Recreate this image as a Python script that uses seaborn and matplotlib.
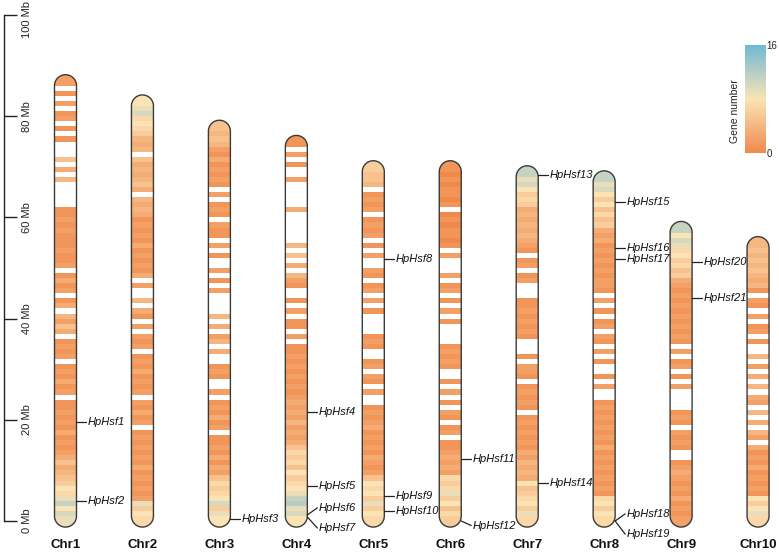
import numpy as np
import matplotlib
matplotlib.use("Agg")
import matplotlib.pyplot as plt
from matplotlib.path import Path
from matplotlib.patches import PathPatch
import seaborn as sns

# chromosomes
chroms = ["Chr1", "Chr2", "Chr3", "Chr4", "Chr5", "Chr6", "Chr7", "Chr8", "Chr9", "Chr10"]

# gene number per 1 Mb window, from 0 Mb upwards
# "." = no gene, "0"-"9","a"-"g" = 0..16
dens_chr1 = ("9a8b9786" "54353" "2121312121" "1.213121.2121" "." "3524.3"
             "1.2131.21" "1211121211" "....." "4.3.5." "..1." "1.21." "2.1.2")
dens_chr2 = ("7869" "2121213121212" "1.21312.21213121.212" "." "2.13" ".4.."
             "2.31" "2121312121" "3434.3543435.434" "6787a98")
dens_chr3 = ("896a87675" "2313121" "1.213121" ".2.." "121" ".." "3.42.3.4" "...."
             "2.1.2..1.2.1" "12.121.2" "." "12121312" "4545")
dens_chr4 = ("8a9cb98" "76857675" "3232423232" "121212121" "1.2.11.2.1" ".." "12"
             "4.3.5.4." ".....3....." "2..1.2.1")
dens_chr5 = ("786968785" "21231212132121" ".." "2.12.21" ".." "121" "...."
             "1.2.21.12..2.1.2" "121.2121." "4556")
dens_chr6 = ("675869767" "232321" "1.21.12.1.2.1" ".." "12121" "...." "1.2.1.21.2."
             "..2." "1011010.10110101")
dens_chr7 = ("79687658" "343423" "1212121.12121.12" "2.1" "..." "1212121" "1...2"
             "1.21.12" "3434343" "6768a9b")
dens_chr8 = ("78687" "1212121213121212121" "..2.1.." "1.2.12.21.1.2.12"
             "21212121323" "6575868a9b")
dens_chr9 = ("212131212321" ".." "1212.121" "...." "2.1.21.2." "1212121212123"
             "6576879a8b")
dens_chr10 = ("79868" "121213121" "3.24.3.4.23.4.3.2.4" ".." "1.21.2.12.1"
              "434545454")
densities = [dens_chr1, dens_chr2, dens_chr3, dens_chr4, dens_chr5,
             dens_chr6, dens_chr7, dens_chr8, dens_chr9, dens_chr10]

# Hsf genes
gene_names = ["HpHsf1", "HpHsf2", "HpHsf3", "HpHsf4", "HpHsf5", "HpHsf6", "HpHsf7",
              "HpHsf8", "HpHsf9", "HpHsf10", "HpHsf11", "HpHsf12", "HpHsf13",
              "HpHsf14", "HpHsf15", "HpHsf16", "HpHsf17", "HpHsf18", "HpHsf19",
              "HpHsf20", "HpHsf21"]
gene_chrom = [1, 1, 3, 4, 4, 4, 4, 5, 5, 5, 6, 6, 7, 7, 8, 8, 8, 8, 8, 9, 9]
gene_pos = [19.6, 3.95, 0.34, 21.6, 6.9, 1.2, 0.8, 51.7, 5.0, 2.0, 12.3, 0.0,
            68.4, 7.6, 63.1, 53.9, 51.8, 0.0, 0.0, 51.2, 44.0]
label_pos = [19.6, 3.95, 0.34, 21.6, 6.9, 2.6, -1.4, 51.7, 5.0, 2.0, 12.3, -0.9,
             68.4, 7.6, 63.1, 53.9, 51.8, 1.4, -2.6, 51.2, 44.0]

scale_ticks = [0, 20, 40, 60, 80, 100]

sns.set_theme(style="white")
plt.rcParams["font.family"] = ["Liberation Sans", "DejaVu Sans"]

cmap = sns.blend_palette(["#EF8A4C", "#FBE3B5", "#6FB9D5"], as_cmap=True)
vmax = 16

W, H = 779, 555
fig = plt.figure(figsize=(W / 100, H / 100), dpi=100)
ax = fig.add_axes([0, 0, 1, 1])

# pixel geometry
x0_px, step_px = 65.5, 76.95
y0_px, mb_px = 521, 5.06
ax.set_xlim(-x0_px / step_px, (W - x0_px) / step_px)
ax.set_ylim(-(H - y0_px) / mb_px, y0_px / mb_px)
ax.axis("off")

rx = 11 / step_px
ry = 11 / mb_px
pad = 1.2


def capsule(cx, y0, y1):
    t1 = np.linspace(0, np.pi, 40)
    top = np.column_stack([cx + rx * np.cos(t1), y1 - ry + ry * np.sin(t1)])
    t2 = np.linspace(np.pi, 2 * np.pi, 40)
    bot = np.column_stack([cx + rx * np.cos(t2), y0 + ry + ry * np.sin(t2)])
    verts = np.vstack([top, bot, top[:1]])
    codes = [Path.MOVETO] + [Path.LINETO] * (len(verts) - 2) + [Path.CLOSEPOLY]
    return Path(verts, codes)


for i, (name, dens) in enumerate(zip(chroms, densities)):
    L = len(dens)
    path = capsule(i, -pad, L + pad)
    ax.add_patch(PathPatch(path, facecolor="white", edgecolor="none", zorder=1))
    bottoms, heights, colors = [], [], []
    for j, ch in enumerate(dens):
        if ch == ".":
            continue
        b, h = j, 1.0
        if j == 0:
            b, h = -pad, 1 + pad
        if j == L - 1:
            h += pad
        bottoms.append(b)
        heights.append(h)
        colors.append(cmap(int(ch, 17) / vmax))
    bars = ax.bar(np.full(len(bottoms), i), heights, bottom=bottoms, width=2 * rx,
                  color=colors, linewidth=0, zorder=2)
    clip = PathPatch(path, transform=ax.transData, facecolor="none", edgecolor="none")
    for p in bars.patches:
        p.set_clip_path(clip)
    ax.add_patch(PathPatch(path, facecolor="none", edgecolor="#3a3a3a", lw=1.0, zorder=3))
    ax.text(i, -(545 - y0_px) / mb_px, name, ha="center", va="center",
            fontsize=9.5, fontweight="bold", color="#111111")

# gene labels
for name, c, gp, lp in zip(gene_names, gene_chrom, gene_pos, label_pos):
    xs = c - 1 + rx
    xe = xs + 10 / step_px
    ax.plot([xs, xe], [gp, lp], color="#222222", lw=0.9, zorder=4)
    ax.text(xe + 1.5 / step_px, lp, name, ha="left", va="center", fontsize=8,
            style="italic", color="#111111")

# Mb scale
sax = fig.add_axes([0, (H - y0_px) / H, 4 / W, 100 * mb_px / H])
sax.set_ylim(0, 100)
sax.set_xticks([])
for s in ["left", "top", "bottom"]:
    sax.spines[s].set_visible(False)
sax.spines["right"].set_color("#222222")
sax.spines["right"].set_linewidth(1)
sax.patch.set_alpha(0)
sax.yaxis.tick_right()
sax.set_yticks(scale_ticks)
sax.set_yticklabels([])
sax.tick_params(axis="y", length=13 * 0.72, width=1, color="#222222",
                right=True, labelright=False)
for v in scale_ticks:
    yy = min(v, 100 - 5 / mb_px)
    sax.text(22 / 4, yy, f"{v} Mb", transform=sax.get_yaxis_transform(),
             rotation=90, ha="left", va="center", fontsize=8, color="#222222")

# colour bar
cax = fig.add_axes([745 / W, 1 - 153 / H, 21 / W, 108 / H])
sm = plt.cm.ScalarMappable(cmap=cmap, norm=plt.Normalize(0, vmax))
cb = fig.colorbar(sm, cax=cax, ticks=[0, vmax])
cb.outline.set_visible(False)
cax.tick_params(length=0, labelsize=7, pad=0.5)
cax.text(-0.5, 0.39, "Gene number", rotation=90, ha="center", va="center",
         transform=cax.transAxes, fontsize=7.5, color="#222222")

fig.savefig("out.png", dpi=100)
